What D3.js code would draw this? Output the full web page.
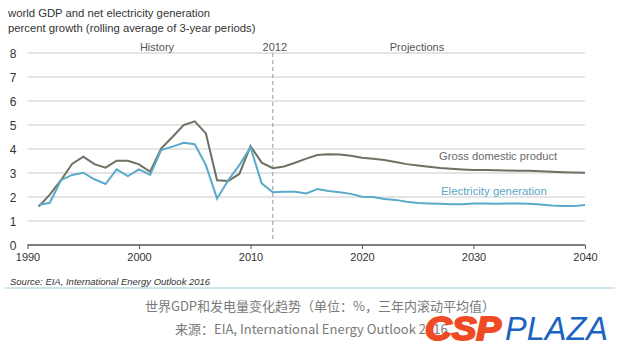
<!DOCTYPE html>
<html><head><meta charset="utf-8">
<script src="https://cdn.jsdelivr.net/npm/d3@7"></script>
<style>body{margin:0;background:#fff}svg{display:block}</style>
</head><body>
<svg id="c" width="620" height="356"></svg>
<script>
const years = d3.range(1991, 2041);
const gdp = [1.6,2.1,2.7,3.38,3.68,3.37,3.22,3.51,3.51,3.36,3.05,4.03,4.5,5.0,5.15,4.65,2.7,2.67,2.96,4.12,3.43,3.2,3.27,3.43,3.6,3.75,3.78,3.77,3.72,3.64,3.59,3.54,3.46,3.37,3.31,3.26,3.21,3.18,3.15,3.13,3.12,3.11,3.1,3.09,3.09,3.07,3.05,3.03,3.02,3.01];
const elec = [1.67,1.76,2.7,2.92,3.01,2.74,2.54,3.15,2.87,3.15,2.92,3.96,4.1,4.26,4.2,3.33,1.93,2.7,3.33,4.07,2.57,2.2,2.22,2.22,2.15,2.33,2.25,2.2,2.13,2.01,2.0,1.92,1.88,1.8,1.75,1.73,1.72,1.7,1.7,1.73,1.73,1.72,1.73,1.73,1.72,1.69,1.65,1.63,1.62,1.67];
const xTicks = [1990,2000,2010,2020,2030,2040];
const yTicks = [0,1,2,3,4,5,6,7,8];

const svg = d3.select("#c");
const font = "Liberation Sans, Arial, sans-serif";
const x = d3.scaleLinear().domain([1990,2040]).range([27.5,585]);
const y = d3.scaleLinear().domain([0,8]).range([245,53]);

// titles
svg.append("text").attr("x",8).attr("y",17).attr("font-family",font).attr("font-size",11.3).attr("fill","#333").text("world GDP and net electricity generation");
svg.append("text").attr("x",8).attr("y",32).attr("font-family",font).attr("font-size",11.3).attr("fill","#333").text("percent growth (rolling average of 3-year periods)");

// grid
svg.append("g").selectAll("line").data(yTicks.filter(d=>d>0)).join("line")
  .attr("x1",x(1990)).attr("x2",x(2040)).attr("y1",d=>y(d)).attr("y2",d=>y(d))
  .attr("stroke","#c9c9c9").attr("stroke-width",1);

// y labels
svg.append("g").selectAll("text").data(yTicks).join("text")
  .attr("x",13).attr("y",d=>y(d)+4.5).attr("text-anchor","middle")
  .attr("font-family",font).attr("font-size",12).attr("fill","#333").text(d=>d);

// x axis
const xa = svg.append("g").attr("transform","translate(0,245)")
  .call(d3.axisBottom(x).tickValues(xTicks).tickFormat(d3.format("d")).tickSize(4).tickPadding(4));
xa.select(".domain").attr("stroke","#555").attr("stroke-width",1.5).attr("d",`M${x(1990)},0H${x(2040)}`);
xa.selectAll(".tick line").attr("stroke","#555");
xa.selectAll("text").attr("font-family",font).attr("font-size",11).attr("fill","#333");

// dashed 2012 line
svg.append("line").attr("x1",x(2012)).attr("x2",x(2012)).attr("y1",53).attr("y2",240)
  .attr("stroke","#999").attr("stroke-dasharray","4,3").attr("stroke-width",1);

// section labels
const lab = (t,xx)=>svg.append("text").attr("x",xx).attr("y",51).attr("text-anchor","middle")
  .attr("font-family",font).attr("font-size",11).attr("fill","#555").text(t);
lab("History",157); lab("2012",x(2012)+2); lab("Projections",417);

// lines
const line = d3.line().x((d,i)=>x(years[i])).y(d=>y(d));
svg.append("path").attr("d",line(gdp)).attr("fill","none").attr("stroke","#6c7262").attr("stroke-width",2);
svg.append("path").attr("d",line(elec)).attr("fill","none").attr("stroke","#5aaac9").attr("stroke-width",2);

svg.append("text").attr("x",439).attr("y",159.5).attr("font-family",font).attr("font-size",11.2).attr("fill","#6a6a6a").text("Gross domestic product");
svg.append("text").attr("x",441).attr("y",194.5).attr("font-family",font).attr("font-size",11.4).attr("fill","#5ba6c5").text("Electricity generation");

// source
svg.append("text").attr("x",10).attr("y",285).attr("font-family",font).attr("font-size",9.5).attr("font-style","italic").attr("fill","#333").text("Source:  EIA, International Energy Outlook 2016");
svg.append("line").attr("x1",5).attr("x2",615).attr("y1",288).attr("y2",288).attr("stroke","#9fcbd8").attr("stroke-width",1.2);

// captions
const cjk = "'Noto Sans CJK SC', 'Noto Sans', sans-serif";
svg.append("text").attr("x",320).attr("y",311).attr("text-anchor","middle").attr("font-family",cjk).attr("font-size",13).attr("fill","#7a7a7a").text("世界GDP和发电量变化趋势（单位：%，三年内滚动平均值）");
svg.append("text").attr("x",175).attr("y",334).attr("font-family",cjk).attr("font-size",13).attr("fill","#7a7a7a").text("来源：EIA, International Energy Outlook 2016");

// logo
svg.append("text").attr("x",425).attr("y",340).attr("font-family",font).attr("font-weight","bold").attr("font-style","italic").attr("font-size",34).attr("fill","#ef4a24").attr("textLength",76).attr("lengthAdjust","spacingAndGlyphs").attr("stroke","#ef4a24").attr("stroke-width",2).text("CSP");
svg.append("text").attr("x",505).attr("y",340).attr("font-family",font).attr("font-style","italic").attr("font-size",33).attr("fill","#1b63c0").attr("textLength",103).attr("lengthAdjust","spacingAndGlyphs").text("PLAZA");
</script>
</body></html>
